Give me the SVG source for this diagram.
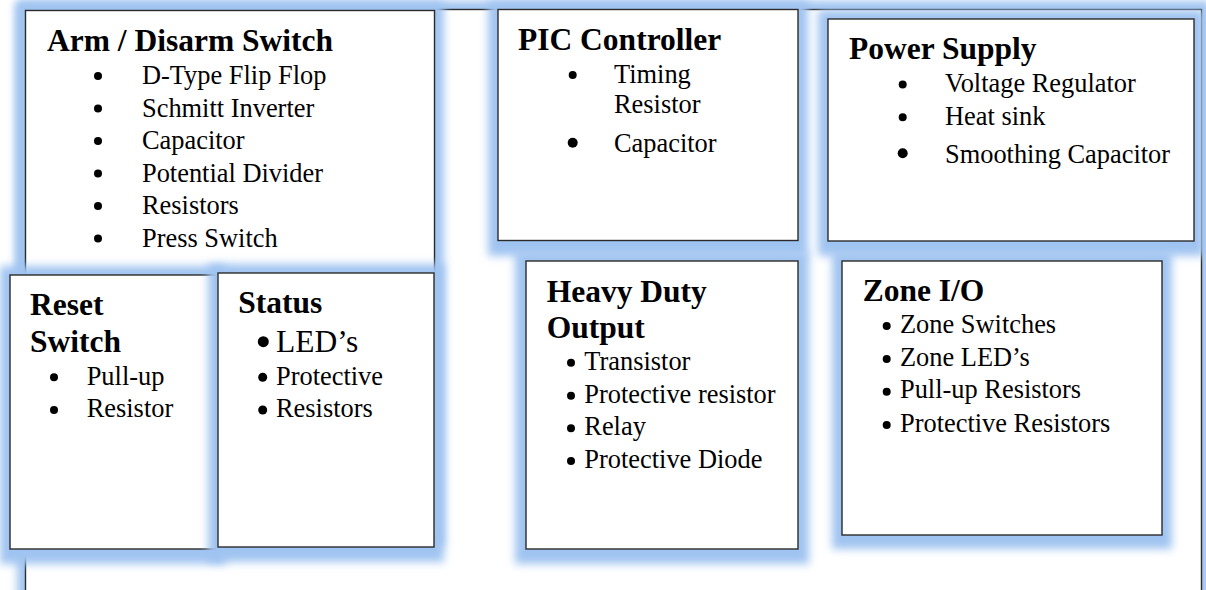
<svg xmlns="http://www.w3.org/2000/svg" width="1206" height="590" viewBox="0 0 1206 590">
<defs>
<filter id="blur" x="-10%" y="-10%" width="120%" height="120%">
<feGaussianBlur stdDeviation="4"/>
</filter>
</defs>
<style>
.gl{fill:#a0c4f1;filter:url(#blur)}
.box{fill:#fff;stroke:#2b2b2b;stroke-width:1.4}
.t{font-family:"Liberation Serif","Times New Roman",serif;font-weight:bold;font-size:31.5px;fill:#000}
.i{font-family:"Liberation Serif","Times New Roman",serif;font-size:26.4px;fill:#000}
.b{fill:#000}
</style>
<rect width="1206" height="590" fill="#fff"/>
<g id="frame">
<rect class="gl" x="17" y="1" width="1193" height="640"/>
<rect class="box" x="25.5" y="9.5" width="1176" height="620"/>
</g>
<g id="connectors"></g>
<g id="arm">
<rect class="gl" x="16" y="2" width="428" height="545"/>
<rect class="box" x="25.5" y="10.5" width="409" height="520"/>
<text class="t" x="47" y="51">Arm / Disarm Switch</text>
<circle class="b" cx="98" cy="76" r="4"/><text class="i" x="142" y="84">D-Type Flip Flop</text>
<circle class="b" cx="98" cy="108.5" r="4"/><text class="i" x="142" y="116.5">Schmitt Inverter</text>
<circle class="b" cx="98" cy="141" r="4"/><text class="i" x="142" y="149">Capacitor</text>
<circle class="b" cx="98" cy="173.5" r="4"/><text class="i" x="142" y="181.5">Potential Divider</text>
<circle class="b" cx="98" cy="206" r="4"/><text class="i" x="142" y="214">Resistors</text>
<circle class="b" cx="98" cy="238.5" r="4"/><text class="i" x="142" y="246.5">Press Switch</text>
</g>
<g id="pic">
<rect class="gl" x="488" y="1" width="320" height="255"/>
<rect class="box" x="498" y="9.5" width="300" height="231"/>
<text class="t" x="518" y="49.5">PIC Controller</text>
<circle class="b" cx="572.7" cy="75" r="4"/><text class="i" x="614" y="82.7">Timing</text>
<text class="i" x="614" y="113.3">Resistor</text>
<circle class="b" cx="572.7" cy="142.7" r="5"/><text class="i" x="614" y="151.7">Capacitor</text>
</g>
<g id="power">
<rect class="gl" x="818" y="10" width="386" height="246"/>
<rect class="box" x="828" y="19" width="366" height="222"/>
<text class="t" x="849" y="59.3">Power Supply</text>
<circle class="b" cx="902.7" cy="84.5" r="4"/><text class="i" x="945" y="91.7">Voltage Regulator</text>
<circle class="b" cx="902.7" cy="117.3" r="4"/><text class="i" x="945" y="125">Heat sink</text>
<circle class="b" cx="902.7" cy="153.3" r="5"/><text class="i" x="945" y="162.7">Smoothing Capacitor</text>
</g>
<g id="heavy">
<rect class="gl" x="515" y="252" width="294" height="312"/>
<rect class="box" x="526" y="261" width="272" height="288"/>
<text class="t" x="546.7" y="301.7">Heavy Duty</text>
<text class="t" x="546.7" y="338.3">Output</text>
<circle class="b" cx="571" cy="362.7" r="4"/><text class="i" x="584.3" y="370">Transistor</text>
<circle class="b" cx="571" cy="395.7" r="4"/><text class="i" x="584.3" y="402.7">Protective resistor</text>
<circle class="b" cx="571" cy="428.3" r="4"/><text class="i" x="584.3" y="435">Relay</text>
<circle class="b" cx="571" cy="461" r="4"/><text class="i" x="584.3" y="468.3">Protective Diode</text>
</g>
<g id="zone">
<rect class="gl" x="832" y="252" width="340" height="297"/>
<rect class="box" x="842" y="261" width="320" height="274"/>
<text class="t" x="862.7" y="300.7">Zone I/O</text>
<circle class="b" cx="886.7" cy="326" r="4"/><text class="i" x="900" y="332.7">Zone Switches</text>
<circle class="b" cx="886.7" cy="359" r="4"/><text class="i" x="900" y="366">Zone LED’s</text>
<circle class="b" cx="886.7" cy="391.7" r="4"/><text class="i" x="900" y="398.3">Pull-up Resistors</text>
<circle class="b" cx="886.7" cy="425" r="4"/><text class="i" x="900" y="431.7">Protective Resistors</text>
</g>
<g id="reset">
<rect class="gl" x="0" y="266" width="226" height="298"/>
<rect class="box" x="10" y="275" width="206" height="274"/>
<text class="t" x="30" y="315">Reset</text>
<text class="t" x="30" y="351.7">Switch</text>
<circle class="b" cx="54" cy="377.3" r="4"/><text class="i" x="86.7" y="385">Pull-up</text>
<circle class="b" cx="54" cy="410" r="4"/><text class="i" x="86.7" y="417.3">Resistor</text>
</g>
<g id="status">
<rect class="gl" x="208" y="264" width="236" height="298"/>
<rect class="box" x="218" y="273" width="216" height="274"/>
<text class="t" x="238.3" y="312.7">Status</text>
<circle class="b" cx="263.3" cy="341.7" r="5.5"/><text class="i" x="276" y="351.7" style="font-size:31.5px">LED’s</text>
<circle class="b" cx="262.7" cy="377.3" r="4.5"/><text class="i" x="276" y="385">Protective</text>
<circle class="b" cx="262.7" cy="410" r="4.5"/><text class="i" x="276" y="416.7">Resistors</text>
</g>
</svg>
